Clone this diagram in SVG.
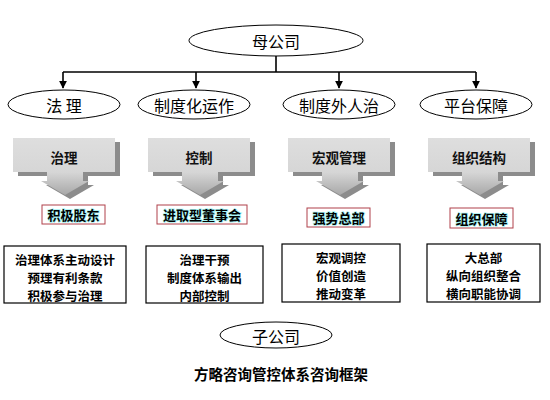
<svg xmlns="http://www.w3.org/2000/svg" width="550" height="400" viewBox="0 0 550 400">
<style>
.ell{fill:#fff;stroke:#000;stroke-width:1}
.et{font-family:"Noto Sans CJK SC","Noto Sans CJK JP",sans-serif;font-size:16px;fill:#000;text-anchor:middle;dominant-baseline:central}
.conn{fill:none;stroke:#000;stroke-width:1.6}
.sh{fill:#8c8c8c}
.cal{fill:url(#g)}
.ct{font-family:"Noto Sans CJK SC",sans-serif;font-size:13.5px;font-weight:bold;fill:#111;text-anchor:middle;dominant-baseline:central}
.tag{fill:#fff;stroke:#b0404a;stroke-width:1}
.tt{font-family:"Noto Sans CJK SC",sans-serif;font-size:13px;font-weight:bold;fill:#000;stroke:#a8f4f4;stroke-width:1.5;paint-order:stroke;text-anchor:middle;dominant-baseline:central}
.box{fill:#fff;stroke:#000;stroke-width:1.2}
.bt{font-family:"Noto Sans CJK SC",sans-serif;font-size:12.5px;font-weight:bold;fill:#000;text-anchor:middle;dominant-baseline:central}
.title{font-family:"Noto Sans CJK SC",sans-serif;font-size:14.5px;font-weight:bold;fill:#000;text-anchor:middle;dominant-baseline:central}
</style>
<defs>
<marker id="ah" viewBox="0 0 10 10" refX="9" refY="5" markerWidth="5" markerHeight="5" orient="auto"><path d="M0,0 L10,5 L0,10 Z" fill="#000"/></marker>
<linearGradient id="g" x1="0" y1="0" x2="0" y2="1"><stop offset="0" stop-color="#dedede"/><stop offset="0.6" stop-color="#d6d6d6"/><stop offset="1" stop-color="#a8a8a8"/></linearGradient>
<path id="callout" d="M0,0 H102 V34 H70 V43 H76 L52,57 L28,43 H34 V34 H0 Z"/>
</defs>
<g id="connectors">
<path class="conn" d="M276,56 V72"/>
<path class="conn" d="M63,72 H476"/>
<path class="conn" d="M63,72 V88" marker-end="url(#ah)"/>
<path class="conn" d="M196,72 V88" marker-end="url(#ah)"/>
<path class="conn" d="M339,72 V88" marker-end="url(#ah)"/>
<path class="conn" d="M476,72 V88" marker-end="url(#ah)"/>
</g>
<g id="parent"><ellipse class="ell" cx="276" cy="40.5" rx="87" ry="15.5"/><text class="et" x="276" y="41">母公司</text></g>
<g id="n1"><ellipse class="ell" cx="64" cy="104.5" rx="56" ry="14.5"/><text class="et" x="64" y="105">法 理</text></g>
<g id="n2"><ellipse class="ell" cx="194" cy="104.5" rx="56" ry="14.5"/><text class="et" x="194" y="105">制度化运作</text></g>
<g id="n3"><ellipse class="ell" cx="339" cy="104.5" rx="56" ry="14.5"/><text class="et" x="339" y="105">制度外人治</text></g>
<g id="n4"><ellipse class="ell" cx="476" cy="104.5" rx="56" ry="14.5"/><text class="et" x="476" y="105">平台保障</text></g>

<g id="c1"><use href="#callout" class="sh" transform="translate(18,142)"/><use href="#callout" class="cal" transform="translate(13,138)"/><text class="ct" x="64" y="157">治理</text></g>
<g id="c2"><use href="#callout" class="sh" transform="translate(153,142)"/><use href="#callout" class="cal" transform="translate(148,138)"/><text class="ct" x="199" y="157">控制</text></g>
<g id="c3"><use href="#callout" class="sh" transform="translate(293,142)"/><use href="#callout" class="cal" transform="translate(288,138)"/><text class="ct" x="339" y="157">宏观管理</text></g>
<g id="c4"><use href="#callout" class="sh" transform="translate(433,142)"/><use href="#callout" class="cal" transform="translate(428,138)"/><text class="ct" x="479" y="157">组织结构</text></g>

<g id="t1"><rect class="tag" x="42" y="205" width="63" height="19"/><text class="tt" x="73.5" y="214.5">积极股东</text></g>
<g id="t2"><rect class="tag" x="157" y="205" width="90" height="19"/><text class="tt" x="202" y="214.5">进取型董事会</text></g>
<g id="t3"><rect class="tag" x="307" y="208" width="63" height="19"/><text class="tt" x="338.5" y="217.5">强势总部</text></g>
<g id="t4"><rect class="tag" x="450" y="208" width="63" height="20"/><text class="tt" x="481.5" y="218">组织保障</text></g>

<g id="b1"><rect class="box" x="4" y="246" width="122" height="57"/><text class="bt" x="65" y="259">治理体系主动设计</text><text class="bt" x="65" y="277">预理有利条款</text><text class="bt" x="65" y="295">积极参与治理</text></g>
<g id="b2"><rect class="box" x="146" y="246" width="117" height="57"/><text class="bt" x="204.5" y="259">治理干预</text><text class="bt" x="204.5" y="277">制度体系输出</text><text class="bt" x="204.5" y="295">内部控制</text></g>
<g id="b3"><rect class="box" x="282" y="244" width="118" height="58"/><text class="bt" x="341" y="257">宏观调控</text><text class="bt" x="341" y="275">价值创造</text><text class="bt" x="341" y="293">推动变革</text></g>
<g id="b4"><rect class="box" x="427" y="244" width="113" height="58"/><text class="bt" x="483.5" y="257">大总部</text><text class="bt" x="483.5" y="275">纵向组织整合</text><text class="bt" x="483.5" y="293">横向职能协调</text></g>

<g id="child"><ellipse class="ell" cx="276" cy="335" rx="56" ry="13"/><text class="et" x="276" y="335.5">子公司</text></g>
<text class="title" x="281" y="373">方略咨询管控体系咨询框架</text>
</svg>
